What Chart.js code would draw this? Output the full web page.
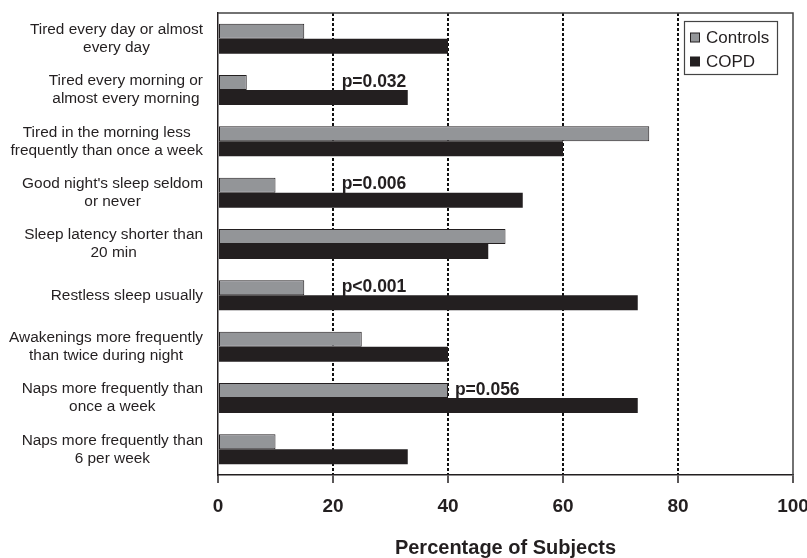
<!DOCTYPE html>
<html><head><meta charset="utf-8">
<script src="https://cdn.jsdelivr.net/npm/chart.js@4.4.0/dist/chart.umd.min.js"></script>
<style>html,body{margin:0;padding:0;background:#fff}#wrap{width:807px;height:558px;position:relative}</style>
</head><body><div id="wrap"><canvas id="c"></canvas></div>
<script>
const categories = [
  ["Tired every day or almost", "every day"],
  ["Tired every morning or", "almost every morning"],
  ["Tired in the morning less", "frequently than once a week"],
  ["Good night's sleep seldom", "or never"],
  ["Sleep latency shorter than", "20 min"],
  ["Restless sleep usually"],
  ["Awakenings more frequently", "than twice during night"],
  ["Naps more frequently than", "once a week"],
  ["Naps more frequently than", "6 per week"]
];
const controls = [15, 5, 75, 10, 50, 15, 25, 40, 10];
const copd = [40, 33, 60, 53, 47, 73, 40, 73, 33];
const xTicks = [0, 20, 40, 60, 80, 100];
const pLabels = ["p=0.032", "p=0.006", "p<0.001", "p=0.056"];
const pCategory = [1, 3, 5, 7];
const pAt = [21.5, 21.5, 21.5, 41.2];

const INK = '#231f20';
const GRAY = '#939598';
const FONT = '"Liberation Sans", Arial, Helvetica, sans-serif';

const yLabelPlugin = {
  id: 'yLabels',
  afterDraw(chart) {
    const ctx = chart.ctx, y = chart.scales.y;
    ctx.save();
    ctx.font = '15.4px ' + FONT;
    ctx.fillStyle = INK;
    ctx.textAlign = 'center';
    ctx.textBaseline = 'middle';
    const right = 203, lh = 18;
    categories.forEach((lines, i) => {
      const w = Math.max(...lines.map(l => ctx.measureText(l).width));
      const cx = right - w / 2;
      const cy = y.getPixelForValue(i);
      lines.forEach((l, k) => {
        ctx.fillText(l, cx, cy + (k - (lines.length - 1) / 2) * lh);
      });
    });
    ctx.restore();
  }
};

const framePlugin = {
  id: 'frame',
  beforeDatasetsDraw(chart) {
    const {ctx, chartArea: a} = chart;
    ctx.save();
    ctx.strokeStyle = '#444';
    ctx.lineWidth = 1.5;
    ctx.beginPath();
    ctx.moveTo(a.left, a.top);
    ctx.lineTo(a.right, a.top);
    ctx.lineTo(a.right, a.bottom);
    ctx.stroke();
    ctx.restore();
  }
};

const pPlugin = {
  id: 'pvals',
  afterDatasetsDraw(chart) {
    const ctx = chart.ctx, x = chart.scales.x, y = chart.scales.y;
    ctx.save();
    ctx.font = 'bold 17.5px ' + FONT;
    ctx.fillStyle = INK;
    ctx.textAlign = 'left';
    ctx.textBaseline = 'alphabetic';
    pLabels.forEach((t, i) => {
      ctx.fillText(t, x.getPixelForValue(pAt[i]), y.getPixelForValue(pCategory[i]) - 3.5);
    });
    ctx.restore();
  }
};

const legendPlugin = {
  id: 'boxLegend',
  afterDraw(chart) {
    const ctx = chart.ctx;
    const bx = 684, by = 21, bw = 93, bh = 53;
    ctx.save();
    ctx.fillStyle = '#fff';
    ctx.fillRect(bx, by, bw, bh);
    ctx.strokeStyle = '#444';
    ctx.lineWidth = 1.2;
    ctx.strokeRect(bx + 0.5, by + 0.5, bw, bh);
    ctx.font = '17px ' + FONT;
    ctx.textBaseline = 'middle';
    ctx.textAlign = 'left';
    chart.data.datasets.forEach((ds, i) => {
      const cy = by + 16.5 + i * 24;
      ctx.fillStyle = ds.backgroundColor;
      ctx.fillRect(bx + 6.5, cy - 4.5, 9, 9);
      ctx.strokeStyle = ds.borderColor;
      ctx.lineWidth = 1;
      ctx.strokeRect(bx + 6.5, cy - 4.5, 9, 9);
      ctx.fillStyle = INK;
      ctx.fillText(ds.label, bx + 22, cy + 1);
    });
    ctx.restore();
  }
};

new Chart(document.getElementById('c'), {
  type: 'bar',
  data: {
    labels: categories,
    datasets: [
      {label: 'Controls', data: controls, backgroundColor: GRAY, borderColor: INK, borderWidth: 1, borderSkipped: false},
      {label: 'COPD', data: copd, backgroundColor: INK, borderColor: INK, borderWidth: 0}
    ]
  },
  options: {
    indexAxis: 'y',
    responsive: true,
    maintainAspectRatio: false,
    animation: false,
    datasets: {bar: {categoryPercentage: 0.585, barPercentage: 1}},
    layout: {padding: {top: 13, right: 14, left: 0, bottom: 0}},
    plugins: {legend: {display: false}, tooltip: {enabled: false}},
    scales: {
      x: {
        min: 0, max: 100,
        afterBuildTicks: s => { s.ticks = xTicks.map(v => ({value: v})); },
        afterFit: s => { s.height = 83; s.paddingLeft = 0; s.paddingRight = 0; },
        grid: {
          color: c => (c.tick && (c.tick.value === 0 || c.tick.value === 100)) ? 'rgba(0,0,0,0)' : '#111',
          lineWidth: 2,
          drawTicks: true,
          tickLength: 8,
          tickColor: INK,
          tickWidth: 1.5,
          tickBorderDash: []
        },
        border: {display: true, color: INK, width: 1.5, dash: [3, 2]},
        ticks: {
          padding: 12,
          color: INK,
          font: {family: FONT, size: 19, weight: 'bold'},
          maxRotation: 0
        },
        title: {
          display: true,
          text: 'Percentage of Subjects',
          color: INK,
          font: {family: FONT, size: 20, weight: 'bold'},
          padding: {top: 0, bottom: -2}
        }
      },
      y: {
        afterFit: s => { s.width = 218; },
        grid: {display: false},
        border: {display: true, color: INK, width: 1.5},
        ticks: {display: false}
      }
    }
  },
  plugins: [framePlugin, pPlugin, yLabelPlugin, legendPlugin]
});
</script>
</body></html>
